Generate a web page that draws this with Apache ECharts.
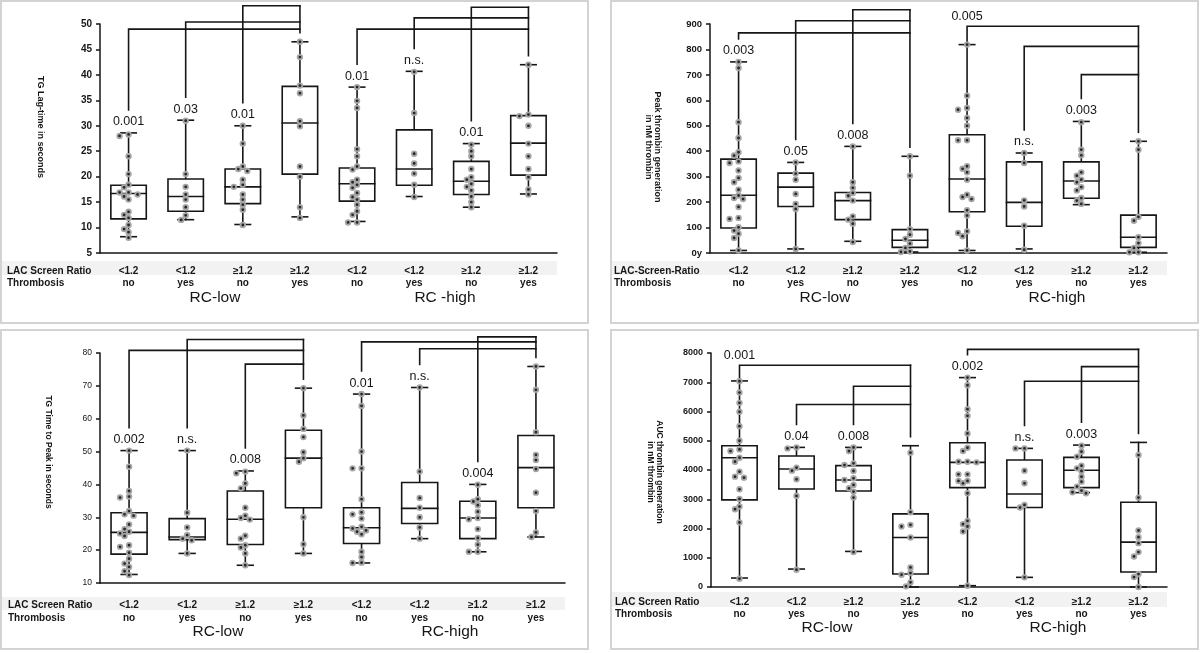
<!DOCTYPE html>
<html>
<head>
<meta charset="utf-8">
<script src="https://cdn.jsdelivr.net/npm/echarts@6/dist/echarts.min.js"></script>
<style>
  html, body { margin: 0; padding: 0; background: #fff; }
  #main { width: 1200px; height: 653px; }
</style>
</head>
<body>
<div id="main"></div>
<script>
// group labels under the x axis
const groups = ['g0', 'g1', 'g2', 'g3', 'g4', 'g5', 'g6', 'g7'];
const ratio = ['<1.2', '<1.2', '≥1.2', '≥1.2', '<1.2', '<1.2', '≥1.2', '≥1.2'];
const thrombosis = ['no', 'yes', 'no', 'yes', 'no', 'yes', 'no', 'yes'];

// box stats per group: [low whisker, Q1, median, Q3, high whisker]
const lagStats = [
  [8.2, 11.7, 16.7, 18.3, 28.6], [11.55, 13.2, 16.1, 19.55, 31.1],
  [10.6, 14.7, 18.0, 21.5, 30.0], [12.1, 20.5, 30.55, 37.75, 46.5],
  [11.2, 15.2, 18.6, 21.7, 37.6], [16.1, 18.3, 21.5, 29.2, 40.7],
  [14.0, 16.5, 19.1, 23.0, 26.5], [16.6, 20.3, 26.6, 32.0, 42.0]
];
const lagPoints = [
  [28.3, 28.0, 24.0, 20.5, 18.4, 17.9, 16.9, 16.9, 16.5, 16.1, 15.5, 13.1, 12.5, 11.9, 10.5, 9.7, 9.1, 8.0],
  [31.0, 20.5, 18.0, 16.5, 15.5, 14.0, 12.4, 11.5],
  [30.0, 26.5, 22.0, 21.5, 21.1, 19.4, 18.4, 18.0, 16.5, 15.5, 14.5, 13.5, 10.5],
  [46.5, 43.5, 37.9, 36.4, 30.9, 29.9, 22.0, 20.0, 14.0, 11.9],
  [37.6, 34.9, 33.5, 25.4, 24.0, 22.0, 21.4, 19.4, 18.9, 18.4, 17.8, 16.8, 16.0, 15.5, 14.5, 13.2, 12.5, 11.0, 11.0],
  [40.6, 32.5, 24.5, 22.6, 20.6, 18.4, 16.0],
  [26.3, 25.0, 24.0, 21.5, 19.9, 19.4, 18.6, 18.0, 17.3, 16.1, 15.0, 14.0],
  [42.0, 32.2, 31.9, 30.0, 26.5, 24.0, 21.5, 19.9, 17.5, 16.5]
];
const lagP = ['0.001', '0.03', '0.01', '', '0.01', 'n.s.', '0.01', ''];
// [from group, to group, bracket level]
const lagBrackets = [[0, 3, 49.0], [1, 3, 50.4], [2, 3, 53.6], [4, 7, 49.0], [5, 7, 51.2], [6, 7, 53.3]];

const peakStats = [
  [10, 98, 227, 369, 751], [16, 183, 259, 314, 356],
  [46, 131, 206, 238, 419], [4, 22, 50, 92, 380],
  [10, 162, 291, 465, 819], [16, 105, 199, 358, 393],
  [190, 215, 283, 358, 517], [3, 22, 62, 149, 439]
];
const peakPoints = [
  [751, 727, 514, 452, 396, 383, 360, 354, 324, 295, 278, 249, 226, 216, 212, 181, 138, 134, 101, 88, 76, 59, 10],
  [356, 312, 288, 232, 193, 173, 16],
  [419, 278, 256, 236, 225, 206, 144, 131, 115, 43],
  [380, 304, 94, 72, 55, 37, 20, 6, 4],
  [819, 618, 570, 563, 531, 500, 443, 443, 341, 331, 317, 288, 229, 220, 212, 168, 147, 85, 79, 66, 10],
  [393, 354, 207, 183, 107, 13],
  [514, 406, 384, 317, 304, 288, 278, 259, 246, 216, 206, 193],
  [439, 406, 142, 127, 62, 39, 20, 3, 3]
];
const peakP = ['0.003', '0.05', '0.008', '', '0.005', 'n.s.', '0.003', ''];
const peakBrackets = [[0, 3, 865], [1, 3, 913], [2, 3, 956], [4, 7, 891], [5, 7, 812], [6, 7, 701]];

const ttpStats = [
  [12.6, 18.8, 25.4, 31.4, 50.3], [19.0, 23.2, 24.0, 29.6, 50.3],
  [15.4, 21.7, 29.4, 38.0, 44.1], [19.0, 32.9, 48.0, 56.5, 69.3],
  [16.1, 22.0, 26.8, 32.9, 67.5], [23.5, 28.1, 32.7, 40.6, 69.5],
  [19.5, 23.5, 29.8, 34.9, 40.0], [24.0, 32.9, 45.1, 54.9, 75.9]
];
const ttpPoints = [
  [50.3, 45.4, 38.0, 36.3, 36.0, 31.9, 30.9, 30.5, 27.8, 26.4, 25.6, 25.1, 24.3, 21.5, 21.0, 19.2, 17.4, 15.9, 14.9, 13.6, 12.4],
  [50.3, 31.4, 26.9, 24.6, 23.5, 23.0, 19.0],
  [43.9, 43.4, 40.3, 38.8, 32.9, 30.5, 29.8, 29.3, 24.4, 23.5, 21.5, 20.8, 19.0, 15.4],
  [69.3, 61.0, 56.9, 54.4, 49.8, 48.0, 46.9, 30.0, 21.8, 19.0],
  [67.5, 63.9, 50.0, 44.9, 44.9, 35.5, 31.5, 30.9, 29.6, 27.1, 26.6, 26.0, 25.6, 24.8, 19.5, 17.9, 16.2, 16.1],
  [69.5, 43.9, 35.9, 32.9, 30.0, 26.9, 23.5],
  [39.9, 35.5, 34.8, 33.7, 31.7, 29.8, 29.4, 26.4, 23.7, 21.7, 19.5, 19.5],
  [75.9, 68.8, 55.9, 49.0, 47.4, 44.7, 37.5, 31.9, 25.4, 24.0]
];
const ttpP = ['0.002', 'n.s.', '0.008', '', '0.01', 'n.s.', '0.004', ''];
const ttpBrackets = [[0, 3, 80.8], [1, 3, 84.1], [2, 3, 76.6], [4, 7, 83.4], [5, 7, 81.3], [6, 7, 84.9]];

const aucStats = [
  [307, 2977, 4420, 4830, 7045], [614, 3352, 4034, 4477, 4773],
  [1216, 3284, 3659, 4148, 4773], [0, 443, 1693, 2500, 4830],
  [45, 3398, 4261, 4932, 7159], [330, 2716, 3182, 4341, 4739],
  [3227, 3398, 3989, 4432, 4852], [0, 511, 1534, 2898, 4943]
];
const aucPoints = [
  [7034, 6648, 6295, 5989, 5500, 5000, 4705, 4648, 4420, 4284, 3943, 3773, 3739, 3341, 3011, 2750, 2659, 2205, 284],
  [4773, 4739, 4080, 3977, 3682, 3114, 591],
  [4773, 4648, 4227, 4170, 3966, 3716, 3659, 3489, 3375, 3261, 3057, 1193],
  [4591, 2557, 2125, 2068, 1693, 670, 477, 420, 159, 23],
  [7159, 6898, 6080, 5852, 5250, 4761, 4648, 4284, 4284, 4261, 3852, 3852, 3625, 3625, 3545, 3205, 2261, 2148, 2068, 1898, 45],
  [4739, 4739, 3977, 3545, 2807, 2716, 330],
  [4830, 4625, 4455, 4148, 4057, 3966, 3773, 3602, 3432, 3296, 3239, 3205],
  [4511, 3057, 1932, 1705, 1500, 1193, 1045, 443, 341, 0]
];
const aucP = ['0.001', '0.04', '0.008', '', '0.002', 'n.s.', '0.003', ''];
const aucBrackets = [[0, 3, 7580], [1, 3, 6240], [2, 3, 6864], [4, 7, 8125], [5, 7, 7034], [6, 7, 7535]];

const INK = '#161616';
const FONT = '"Liberation Sans", Arial, sans-serif';

function seg(pts) {
  return { type: 'polyline', shape: { points: pts }, style: { stroke: INK, lineWidth: 1.6, fill: null, lineCap: 'square' } };
}

// one data item per group: box, whiskers, dots, p-value and brackets
function boxRenderer(stats, pts, pLab, brackets) {
  return function (params, api) {
    const i = params.dataIndex;
    const s = stats[i];
    const x = api.coord([i, s[2]])[0];
    const band = api.size([1, 0])[0];
    const half = band * 0.31, cap = band * 0.135;
    const y = v => api.coord([i, v])[1];
    const kids = [];
    kids.push(seg([[x, y(s[0])], [x, y(s[1])]]), seg([[x, y(s[3])], [x, y(s[4])]]));
    kids.push(seg([[x - cap, y(s[0])], [x + cap, y(s[0])]]), seg([[x - cap, y(s[4])], [x + cap, y(s[4])]]));
    kids.push({
      type: 'rect',
      shape: { x: x - half, y: y(s[3]), width: 2 * half, height: y(s[1]) - y(s[3]) },
      style: { fill: '#fff', stroke: INK, lineWidth: 1.6 }
    });
    kids.push(seg([[x - half, y(s[2])], [x + half, y(s[2])]]));

    // simple swarm so dots don't sit on top of each other
    const placed = [];
    pts[i].slice().sort((a, b) => b - a).forEach(v => {
      const cy = y(v);
      let dx = 0;
      for (let k = 0; k < 14; k++) {
        const c = (k % 2 ? -1 : 1) * Math.ceil(k / 2) * 4.5;
        if (placed.every(p => Math.hypot(p[0] - c, p[1] - cy) >= 5)) { dx = c; break; }
      }
      placed.push([dx, cy]);
    });
    placed.forEach(p => kids.push({
      type: 'circle',
      shape: { cx: x + p[0], cy: p[1], r: 2.3 },
      style: { fill: '#262626', stroke: '#a6a6a6', lineWidth: 1.8 },
      z2: 5
    }));

    const wt = y(s[4]);
    let labelY = wt - 11;
    brackets.filter(b => b[0] === i).forEach(b => {
      const yl = y(b[2]);
      const xt = api.coord([b[1], b[2]])[0];
      let y0 = wt - 23;
      if (yl > wt - 26) { y0 = wt; labelY = yl - 10; }
      kids.push(seg([[x, y0], [x, yl], [xt, yl]]));
    });
    const tops = brackets.filter(b => b[1] === i).map(b => y(b[2]));
    if (tops.length) kids.push(seg([[x, Math.min.apply(null, tops)], [x, wt - 9]]));
    if (pLab[i]) {
      kids.push({
        type: 'text', x: x, y: labelY,
        style: { text: pLab[i], font: '12.5px ' + FONT, fill: INK, align: 'center', verticalAlign: 'middle' }
      });
    }
    return { type: 'group', children: kids };
  };
}

const panels = [
  { stats: lagStats, pts: lagPoints, p: lagP, br: lagBrackets, min: 5, max: 50, step: 5,
    grid: { left: 100, top: 24, width: 457, height: 229 }, margin: 12, lh: 12,
    tick: { fontSize: 10, fontWeight: 'bold' } },
  { stats: peakStats, pts: peakPoints, p: peakP, br: peakBrackets, min: 0, max: 900, step: 100,
    grid: { left: 710, top: 24, width: 457, height: 229 }, margin: 12, lh: 12,
    tick: { fontSize: 9.5, fontWeight: 'bold' }, zeroLabel: '0y' },
  { stats: ttpStats, pts: ttpPoints, p: ttpP, br: ttpBrackets, min: 10, max: 80, step: 10,
    grid: { left: 100, top: 353, width: 465, height: 230 }, margin: 16, lh: 12.7,
    tick: { fontSize: 8.5, fontWeight: 'normal' } },
  { stats: aucStats, pts: aucPoints, p: aucP, br: aucBrackets, min: 0, max: 8000, step: 1000,
    grid: { left: 711, top: 353, width: 456, height: 234 }, margin: 8.5, lh: 12.6,
    tick: { fontSize: 9, fontWeight: 'bold' } }
];

function txt(x, y, text, font) {
  return { type: 'text', x: x, y: y, z: 50,
    style: { text: text, font: font, fill: INK, align: 'left', verticalAlign: 'middle' } };
}
function cText(x, y, text, font, rotation) {
  return { type: 'text', x: x, y: y, z: 50, rotation: rotation || 0,
    style: { text: text, font: font, fill: INK, align: 'center', verticalAlign: 'middle' } };
}
function rect(x, y, w, h, style, z) {
  return { type: 'rect', z: z, shape: { x: x, y: y, width: w, height: h }, style: style };
}

const rowFont = 'bold 10px ' + FONT;
const groupFont = '15.5px ' + FONT;
const nameFont = 'bold 9px ' + FONT;
const border = { fill: null, stroke: '#d3d3d3', lineWidth: 2 };
const bandFill = { fill: '#f2f2f2' };
const down = -Math.PI / 2;

const graphic = [
  rect(1, 1, 587, 322, border, 0), rect(611, 1, 587, 322, border, 0),
  rect(1, 330, 587, 319, border, 0), rect(611, 330, 587, 319, border, 0),
  rect(2, 261, 555, 14, bandFill, -1), rect(612, 261, 555, 14, bandFill, -1),
  rect(2, 597, 563, 13, bandFill, -1), rect(612, 592, 555, 15, bandFill, -1),
  txt(7, 271, 'LAC Screen Ratio', rowFont), txt(7, 283, 'Thrombosis', rowFont),
  txt(614, 271, 'LAC-Screen-Ratio', rowFont), txt(614, 283, 'Thrombosis', rowFont),
  txt(8, 605, 'LAC Screen Ratio', rowFont), txt(8, 618, 'Thrombosis', rowFont),
  txt(615, 602, 'LAC Screen Ratio', rowFont), txt(615, 614, 'Thrombosis', rowFont),
  cText(215, 298, 'RC-low', groupFont), cText(445, 298, 'RC -high', groupFont),
  cText(825, 298, 'RC-low', groupFont), cText(1057, 298, 'RC-high', groupFont),
  cText(218, 632, 'RC-low', groupFont), cText(450, 632, 'RC-high', groupFont),
  cText(827, 628, 'RC-low', groupFont), cText(1058, 628, 'RC-high', groupFont),
  cText(40, 127, 'TG Lag-time in seconds', nameFont, down),
  cText(653, 147, 'Peak thrombin generation\nin nM thrombin', nameFont, down),
  cText(48, 452, 'TG Time to Peak in seconds', 'bold 8.5px ' + FONT, down),
  cText(655, 472, 'AUC thrombin generation\nin nM thrombin', 'bold 8.5px ' + FONT, down)
];

const option = {
  animation: false,
  backgroundColor: '#fff',
  graphic: { elements: graphic },
  grid: panels.map(p => p.grid),
  xAxis: panels.map((p, gi) => ({
    type: 'category', gridIndex: gi, data: groups,
    axisLine: { lineStyle: { color: INK, width: 1.5 } },
    axisTick: { length: 4, lineStyle: { color: INK, width: 1.5 } },
    axisLabel: {
      interval: 0, margin: p.margin, color: INK, fontFamily: FONT,
      fontSize: 10, fontWeight: 'bold', lineHeight: p.lh,
      formatter: (v, i) => ratio[i] + '\n' + thrombosis[i]
    },
    splitLine: { show: false }
  })),
  yAxis: panels.map((p, gi) => ({
    type: 'value', gridIndex: gi, min: p.min, max: p.max, interval: p.step,
    axisLine: { show: true, lineStyle: { color: INK, width: 1.5 } },
    axisTick: { show: true, length: 4, lineStyle: { color: INK, width: 1.5 } },
    axisLabel: {
      margin: 8, color: INK, fontFamily: FONT, fontSize: p.tick.fontSize, fontWeight: p.tick.fontWeight,
      formatter: v => (v === 0 && p.zeroLabel) ? p.zeroLabel : String(v)
    },
    splitLine: { show: false }
  })),
  series: panels.map((p, gi) => ({
    type: 'custom', xAxisIndex: gi, yAxisIndex: gi, clip: false,
    renderItem: boxRenderer(p.stats, p.pts, p.p, p.br),
    encode: { x: 0, y: 1 },
    data: p.stats.map((s, i) => [i, s[4]])
  }))
};

const chart = echarts.init(document.getElementById('main'));
chart.setOption(option);
window.addEventListener('resize', () => chart.resize());
</script>
</body>
</html>
